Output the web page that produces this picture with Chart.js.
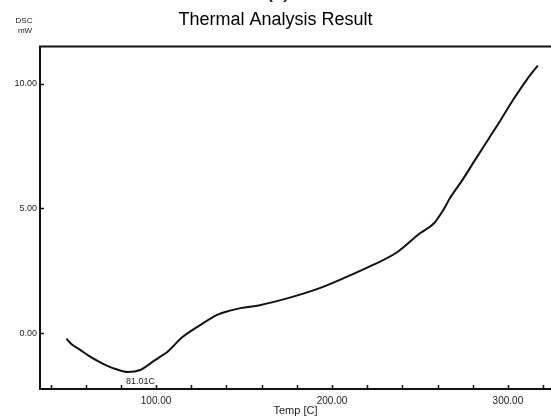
<!DOCTYPE html>
<html>
<head>
<meta charset="utf-8">
<script src="https://cdn.jsdelivr.net/npm/chart.js@4.4.0/dist/chart.umd.min.js"></script>
<style>
html, body { margin: 0; padding: 0; background: #fff; }
#wrap { width: 551px; height: 418px; }
</style>
</head>
<body>
<div id="wrap"><canvas id="chart-dsc"></canvas></div>
<script>
// DSC curve (Temp in C, DSC in mW)
const temps = [49, 52, 57, 62, 68, 72, 77, 84, 91, 97, 102, 106, 115, 125, 135, 142, 148, 159, 176, 193, 208, 223, 237, 250, 258, 263, 267, 274, 281, 289, 296, 303, 311, 317];
const dsc = [-0.22, -0.45, -0.68, -0.92, -1.16, -1.3, -1.44, -1.56, -1.48, -1.2, -0.96, -0.78, -0.16, 0.32, 0.74, 0.9, 1.0, 1.12, 1.42, 1.8, 2.24, 2.72, 3.24, 4.0, 4.4, 4.9, 5.4, 6.12, 6.9, 7.78, 8.55, 9.35, 10.18, 10.72];
const xLabelTicks = [100, 200, 300];
const yLabelTicks = [0, 5, 10];
const peakIndex = 7;
const peakLabel = "81.01C";

// frame line on top, inward tick marks and the loose texts
const extras = {
    id: 'extras',
    afterDraw(chart) {
        const { ctx, chartArea, scales } = chart;
        ctx.save();
        ctx.strokeStyle = '#111';
        ctx.lineWidth = 2;
        ctx.beginPath();
        ctx.moveTo(chartArea.left - 1, chartArea.top);
        ctx.lineTo(chartArea.right, chartArea.top);
        ctx.stroke();

        ctx.lineWidth = 1.5;
        ctx.beginPath();
        scales.x.ticks.forEach(t => {
            const px = Math.round(scales.x.getPixelForValue(t.value)) + 0.5;
            ctx.moveTo(px, chartArea.bottom);
            ctx.lineTo(px, chartArea.bottom - 4);
        });
        scales.y.ticks.forEach(t => {
            const py = Math.round(scales.y.getPixelForValue(t.value)) + 0.5;
            ctx.moveTo(chartArea.left, py);
            ctx.lineTo(chartArea.left + 4, py);
        });
        ctx.stroke();

        ctx.fillStyle = '#222';
        ctx.font = '8px "Liberation Sans", Arial, sans-serif';
        ctx.textAlign = 'center';
        ctx.textBaseline = 'middle';
        ctx.fillText('DSC', 24, 21);
        ctx.fillText('mW', 25, 31);

        ctx.font = 'bold 17px "Liberation Sans", Arial, sans-serif';
        ctx.textBaseline = 'alphabetic';
        ctx.fillText('(b)', 278, -1);

        const px = scales.x.getPixelForValue(temps[peakIndex]);
        const py = scales.y.getPixelForValue(dsc[peakIndex]);
        ctx.font = '9px "Liberation Sans", Arial, sans-serif';
        ctx.textAlign = 'left';
        ctx.textBaseline = 'middle';
        ctx.fillText(peakLabel, px - 2, py + 9);
        ctx.restore();
    }
};

const canvas = document.getElementById('chart-dsc');
new Chart(canvas.getContext('2d'), {
    type: 'line',
    data: {
        datasets: [{
            label: 'DSC',
            data: temps.map((t, i) => ({ x: t, y: dsc[i] })),
            borderColor: '#111',
            borderWidth: 2,
            pointRadius: 0,
            cubicInterpolationMode: 'monotone',
            fill: false
        }]
    },
    options: {
        responsive: true,
        maintainAspectRatio: false,
        animation: false,
        devicePixelRatio: 1,
        layout: { padding: { top: 1, left: 0, right: 0, bottom: 0 } },
        plugins: {
            legend: { display: false },
            tooltip: { enabled: false },
            title: {
                display: true,
                text: 'Thermal Analysis Result',
                color: '#000',
                font: { family: '"Liberation Sans", Arial, sans-serif', size: 18, weight: 'normal' },
                padding: { top: 8, bottom: 16 }
            }
        },
        scales: {
            x: {
                type: 'linear',
                min: 34,
                max: 324.5,
                afterFit: s => { s.height = 29; },
                grid: { display: false, drawTicks: false },
                border: { display: true, color: '#111', width: 2 },
                ticks: {
                    stepSize: 20,
                    includeBounds: false,
                    autoSkip: false,
                    maxRotation: 0,
                    padding: 6,
                    color: '#222',
                    font: { family: '"Liberation Sans", Arial, sans-serif', size: 10 },
                    callback: v => xLabelTicks.includes(v) ? v.toFixed(2) : ''
                },
                title: {
                    display: true,
                    text: 'Temp [C]',
                    color: '#222',
                    font: { family: '"Liberation Sans", Arial, sans-serif', size: 11 },
                    padding: { top: 0, bottom: 0 }
                }
            },
            y: {
                min: -2.24,
                max: 11.48,
                afterFit: s => { s.width = 40; },
                grid: { display: false, drawTicks: false },
                border: { display: true, color: '#111', width: 2 },
                ticks: {
                    stepSize: 5,
                    includeBounds: false,
                    padding: 3,
                    color: '#222',
                    font: { family: '"Liberation Sans", Arial, sans-serif', size: 9 },
                    callback: v => yLabelTicks.includes(v) ? v.toFixed(2) : ''
                }
            }
        }
    },
    plugins: [extras]
});
</script>
</body>
</html>
